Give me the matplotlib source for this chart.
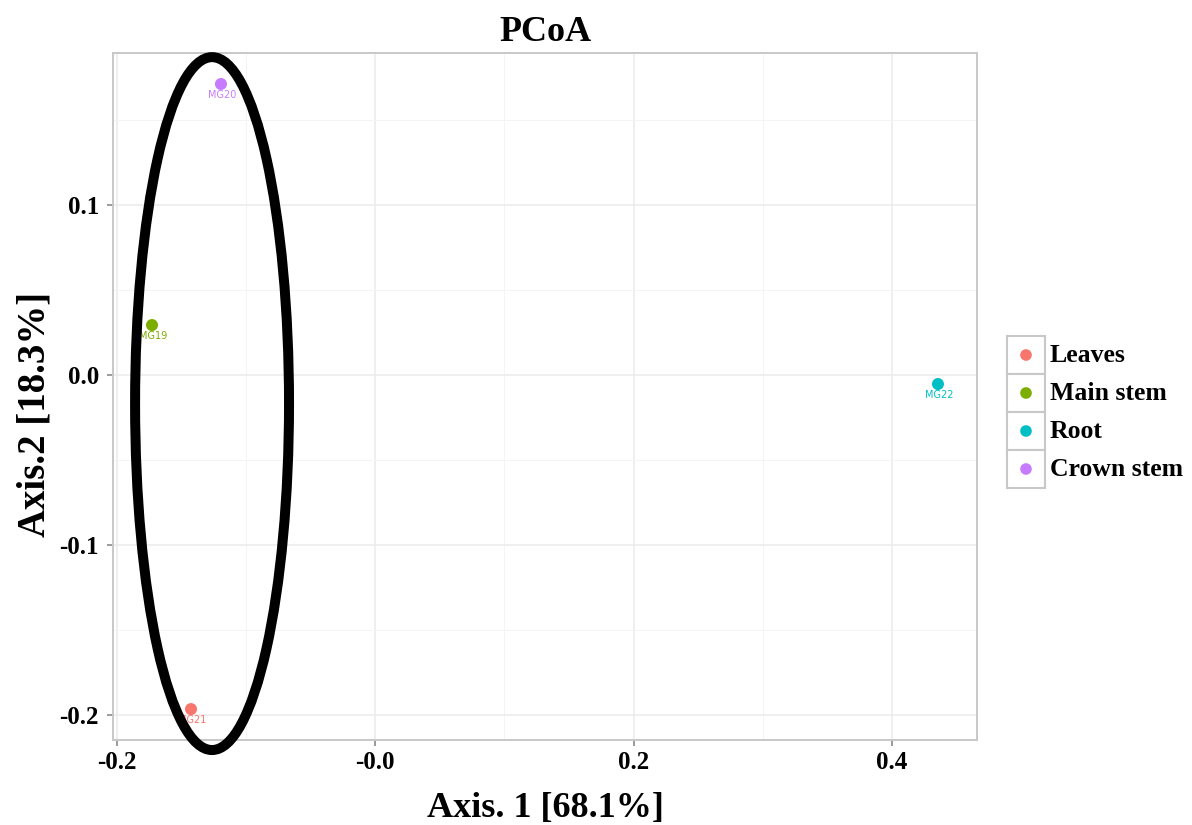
import matplotlib
matplotlib.use('Agg')
import matplotlib.pyplot as plt
from matplotlib.patches import Ellipse, Rectangle
from matplotlib.ticker import FixedLocator, FixedFormatter, MultipleLocator

# Sample coordinates (PCoA)
samples = ['MG21', 'MG19', 'MG22', 'MG20']
groups = ['Leaves', 'Main stem', 'Root', 'Crown stem']
axis1 = [-0.1427, -0.1729, 0.4357, -0.1195]
axis2 = [-0.1965, 0.0294, -0.0053, 0.1712]
colors = ['#F8766D', '#7CAE00', '#00BFC4', '#C77CFF']

x_ticks = [-0.2, 0.0, 0.2, 0.4]
x_ticklabels = ['-0.2', '-0.0', '0.2', '0.4']
y_ticks = [-0.2, -0.1, 0.0, 0.1]
y_ticklabels = ['-0.2', '-0.1', '0.0', '0.1']

# Ellipse around the stem/leaf cluster
ell_center = (-0.1264, -0.0168)
ell_width = 0.1192
ell_height = 0.4076

serif = ['Liberation Serif', 'DejaVu Serif']
plt.rcParams['font.family'] = serif

fig = plt.figure(figsize=(11.92, 8.25), dpi=100)
ax = fig.add_axes([0.0948, 0.1030, 0.7248, 0.8327])

ax.set_xlim(-0.2031, 0.4659)
ax.set_ylim(-0.2147, 0.1894)

ax.xaxis.set_major_locator(FixedLocator(x_ticks))
ax.xaxis.set_major_formatter(FixedFormatter(x_ticklabels))
ax.yaxis.set_major_locator(FixedLocator(y_ticks))
ax.yaxis.set_major_formatter(FixedFormatter(y_ticklabels))
ax.xaxis.set_minor_locator(MultipleLocator(0.1))
ax.yaxis.set_minor_locator(MultipleLocator(0.05))

ax.grid(which='major', color='#ebebeb', linewidth=1.1)
ax.grid(which='minor', color='#f4f4f4', linewidth=0.7)
ax.set_axisbelow(True)
for s in ax.spines.values():
    s.set_color('#c8c8c8')
    s.set_linewidth(1.4)
ax.tick_params(which='major', colors='#8a8a8a', length=4.5, width=1.2, pad=3.5,
               labelcolor='black', labelsize=18)
ax.tick_params(axis='y', pad=5.5)
ax.tick_params(which='minor', length=0)
for lab in ax.get_xticklabels() + ax.get_yticklabels():
    lab.set_fontweight('bold')

for i in range(len(samples)):
    ax.scatter(axis1[i], axis2[i], s=75, color=colors[i], zorder=3, edgecolors='none')
    ax.annotate(samples[i], (axis1[i], axis2[i]), xytext=(1, -8),
                textcoords='offset points', ha='center', va='center',
                fontsize=7, color=colors[i], family='DejaVu Sans', zorder=3)

ell = Ellipse(ell_center, ell_width, ell_height, fill=False, edgecolor='black',
              linewidth=7.2, zorder=4, clip_on=False)
ax.add_patch(ell)

ax.set_title('PCoA', fontsize=26, fontweight='bold', pad=9)
ax.set_xlabel('Axis. 1 [68.1%]', fontsize=26, fontweight='bold', labelpad=13)
ax.set_ylabel('Axis.2 [18.3%]', fontsize=28, fontweight='bold')
ax.yaxis.set_label_coords(-0.0694, 0.4745)

# Legend drawn as ggplot-style key boxes
leg = fig.add_axes([1007 / 1192, 1 - 488 / 825, 38 / 1192, 152 / 825])
leg.set_xlim(0, 1)
leg.set_ylim(0, len(groups))
leg.axis('off')
for i, g in enumerate(groups):
    yc = len(groups) - i - 0.5
    leg.add_patch(Rectangle((0, yc - 0.5), 1, 1, facecolor='white',
                            edgecolor='#c8c8c8', linewidth=1.5, clip_on=False))
    leg.scatter(0.5, yc, s=70, color=colors[i], edgecolors='none', clip_on=False)
    leg.text(1.12, yc, g, fontsize=18.5, fontweight='bold', va='center', ha='left')

fig.savefig('out.png', dpi=100)
